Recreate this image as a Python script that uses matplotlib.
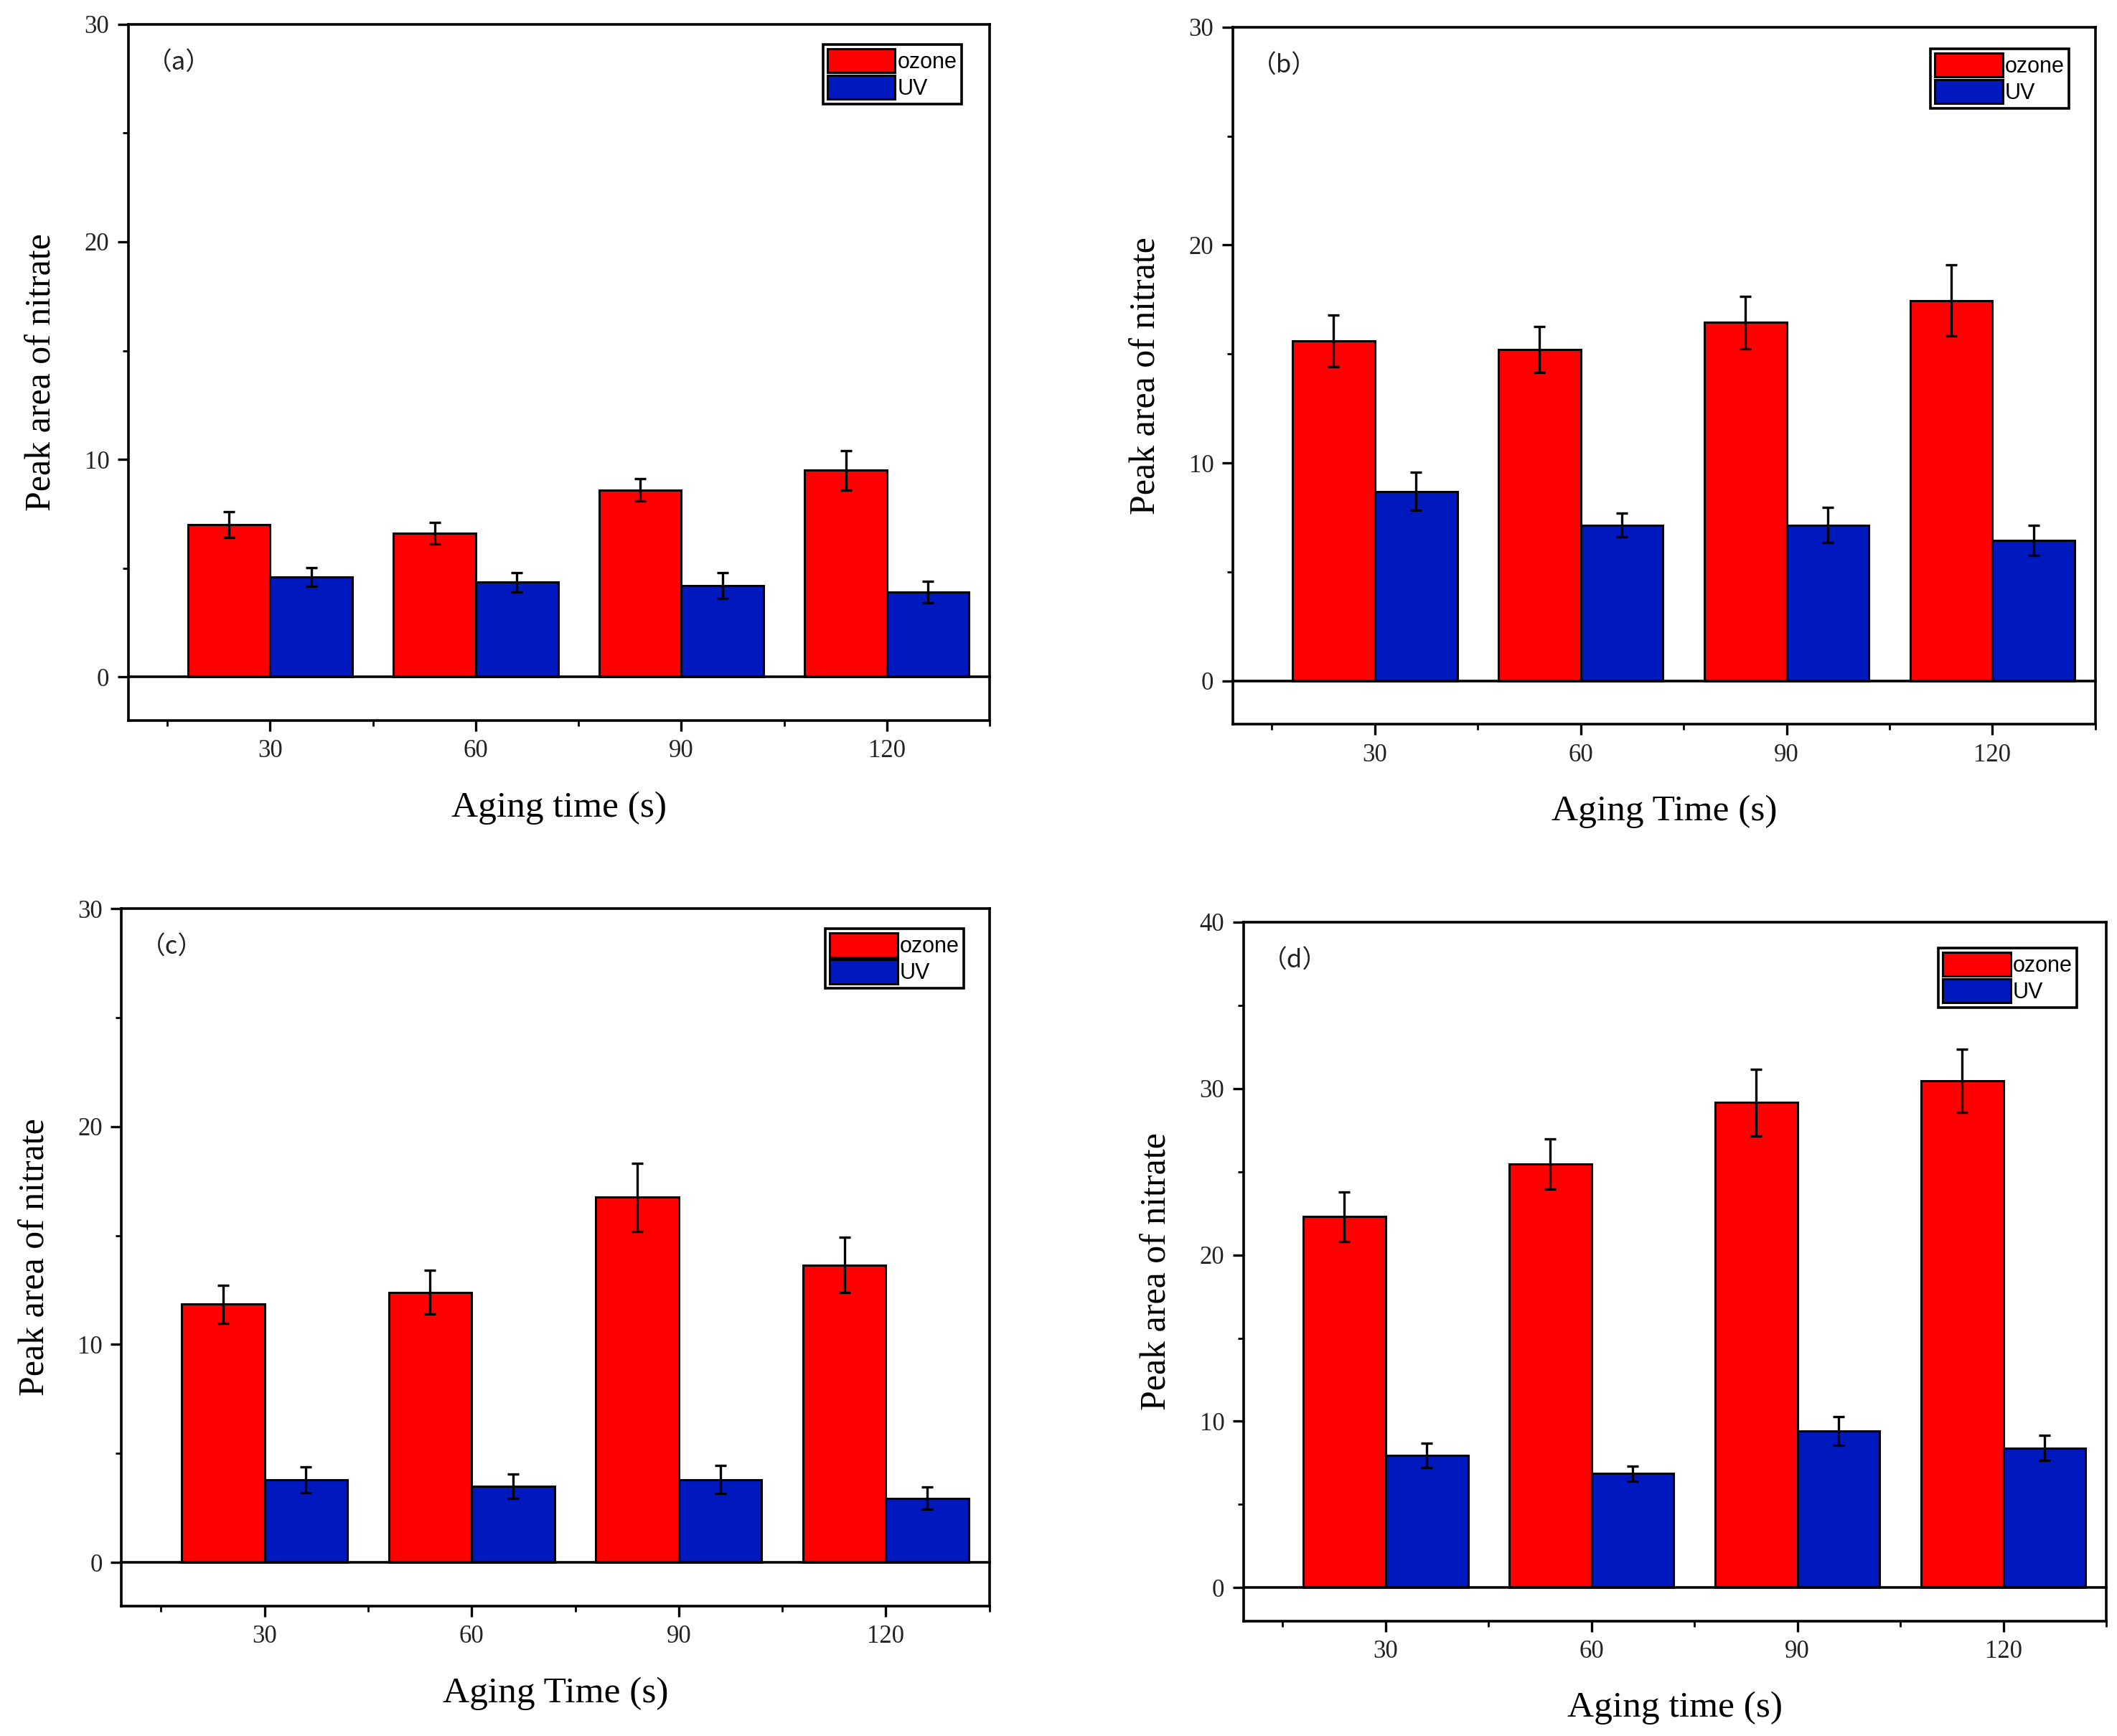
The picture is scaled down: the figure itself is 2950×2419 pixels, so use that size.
import numpy as np
import matplotlib
matplotlib.use('Agg')
import matplotlib.pyplot as plt
from matplotlib.ticker import MultipleLocator, FixedLocator

# aging times (s)
times = [30, 60, 90, 120]

# panel (a)
ozone_a = [7.0, 6.6, 8.6, 9.5]
ozone_a_err = [0.58, 0.5, 0.5, 0.9]
uv_a = [4.6, 4.35, 4.2, 3.9]
uv_a_err = [0.43, 0.45, 0.58, 0.5]

# panel (b)
ozone_b = [15.6, 15.2, 16.45, 17.45]
ozone_b_err = [1.2, 1.06, 1.2, 1.63]
uv_b = [8.7, 7.15, 7.15, 6.45]
uv_b_err = [0.87, 0.55, 0.8, 0.7]

# panel (c)
ozone_c = [11.85, 12.4, 16.75, 13.65]
ozone_c_err = [0.87, 1.0, 1.55, 1.27]
uv_c = [3.8, 3.5, 3.8, 2.95]
uv_c_err = [0.59, 0.56, 0.65, 0.5]

# panel (d)
ozone_d = [22.3, 25.45, 29.15, 30.45]
ozone_d_err = [1.5, 1.5, 2.0, 1.9]
uv_d = [7.95, 6.85, 9.4, 8.4]
uv_d_err = [0.73, 0.45, 0.86, 0.76]

series_labels = ['ozone', 'UV']
RED = '#FF0000'
BLUE = '#0019BE'
SERIF = ['Liberation Serif', 'DejaVu Serif']


def draw_panel(ax, ozone, ozone_err, uv, uv_err, tag, xlabel, ymax, leg_anchor):
    x = np.array(times, dtype=float)
    w = 12
    ax.bar(x - w / 2, ozone, width=w, color=RED, edgecolor='black', linewidth=2.2,
           label=series_labels[0], zorder=2)
    ax.bar(x + w / 2, uv, width=w, color=BLUE, edgecolor='black', linewidth=2.2,
           label=series_labels[1], zorder=2)
    ax.errorbar(x - w / 2, ozone, yerr=ozone_err, fmt='none', ecolor='black',
                elinewidth=2.4, capsize=6, capthick=2.4, zorder=3)
    ax.errorbar(x + w / 2, uv, yerr=uv_err, fmt='none', ecolor='black',
                elinewidth=2.4, capsize=6, capthick=2.4, zorder=3)
    ax.axhline(0, color='black', linewidth=2.6, zorder=4, clip_on=False)

    ax.set_xlim(9.3, 135)
    ax.set_ylim(-2, ymax)
    ax.xaxis.set_major_locator(FixedLocator(times))
    ax.xaxis.set_minor_locator(FixedLocator([15, 45, 75, 105, 135]))
    ax.yaxis.set_major_locator(MultipleLocator(10))
    ax.yaxis.set_minor_locator(FixedLocator(np.arange(5, ymax, 10)))
    ax.tick_params(axis='both', which='major', direction='out', length=11, width=2.4,
                   labelsize=25, pad=8)
    ax.tick_params(axis='both', which='minor', direction='out', length=6, width=2.0)
    for lab in ax.get_xticklabels() + ax.get_yticklabels():
        lab.set_fontfamily(SERIF)
        lab.set_color('#222222')
    for sp in ax.spines.values():
        sp.set_linewidth(2.6)

    ax.set_xlabel(xlabel, fontsize=37, family=SERIF, labelpad=28)
    ax.set_ylabel('Peak area of nitrate', fontsize=36, family=SERIF, labelpad=26)

    # panel tag with full-width brackets
    ax.text(0.022, 0.944, '（' + tag + '）', transform=ax.transAxes, fontsize=25,
            family=['Noto Sans CJK SC', 'DejaVu Sans'], va='center', ha='left',
            color='#222222')

    leg = ax.legend(loc='upper right', bbox_to_anchor=leg_anchor, borderaxespad=0,
                    prop={'family': 'Liberation Sans', 'size': 22},
                    handlelength=3.1, handleheight=1.3, handletextpad=0.1,
                    labelspacing=0.1, borderpad=0.2, fancybox=False, framealpha=1,
                    edgecolor='black')
    leg.get_frame().set_linewidth(2.6)


fig = plt.figure(figsize=(29.5, 24.19), dpi=100)

ax_a = fig.add_axes([0.0606, 0.585, 0.4069, 0.401])
ax_b = fig.add_axes([0.5823, 0.5827, 0.4075, 0.4017])
ax_c = fig.add_axes([0.0574, 0.0749, 0.410, 0.4017])
ax_d = fig.add_axes([0.5874, 0.0663, 0.4075, 0.4025])

draw_panel(ax_a, ozone_a, ozone_a_err, uv_a, uv_a_err, 'a', 'Aging time (s)', 30, (0.967, 0.971))
draw_panel(ax_b, ozone_b, ozone_b_err, uv_b, uv_b_err, 'b', 'Aging Time (s)', 30, (0.969, 0.969))
draw_panel(ax_c, ozone_c, ozone_c_err, uv_c, uv_c_err, 'c', 'Aging Time (s)', 30, (0.970, 0.971))
draw_panel(ax_d, ozone_d, ozone_d_err, uv_d, uv_d_err, 'd', 'Aging time (s)', 40, (0.966, 0.963))

fig.savefig('out.png', dpi=100)
